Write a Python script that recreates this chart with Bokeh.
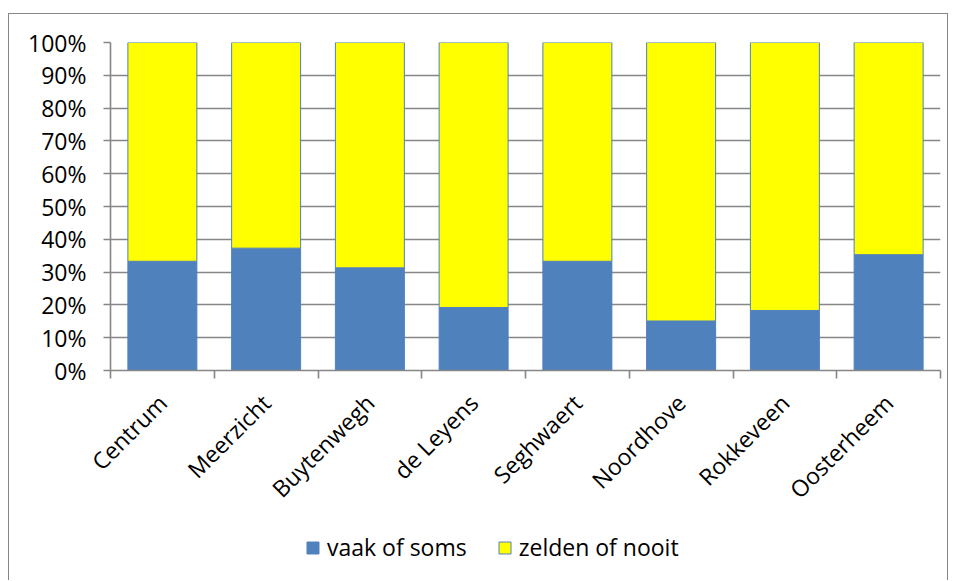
import math
from bokeh.plotting import figure
from bokeh.layouts import column
from bokeh.models import (Range1d, FixedTicker, LinearAxis, Legend, LegendItem,
                          ColumnDataSource)
from bokeh.embed import file_html
from bokeh.resources import INLINE

categories = ["Centrum", "Meerzicht", "Buytenwegh", "de Leyens",
              "Seghwaert", "Noordhove", "Rokkeveen", "Oosterheem"]
vaak_of_soms = [33.3, 37.3, 31.3, 19.2, 33.3, 15.1, 18.3, 35.3]
zelden_of_nooit = [66.7, 62.7, 68.7, 80.8, 66.7, 84.9, 81.7, 64.7]
y_ticks = [0, 10, 20, 30, 40, 50, 60, 70, 80, 90, 100]
y_tick_labels = ["0%", "10%", "20%", "30%", "40%", "50%", "60%", "70%",
                 "80%", "90%", "100%"]
series_names = ["vaak of soms", "zelden of nooit"]

BLUE = "#4F81BD"
YELLOW = "#FFFF00"
GRAY = "#868686"
FONT = "Open Sans"
FS = "23px"
LW = 1.6

n = len(categories)
src = ColumnDataSource(dict(
    x=[i + 0.5 for i in range(n)],
    vaak=vaak_of_soms,
    zelden=zelden_of_nooit,
))

p = figure(width=940, height=507, output_backend="svg", toolbar_location=None,
           x_range=Range1d(0, n), y_range=Range1d(0, 100),
           min_border_left=102, min_border_right=8, min_border_top=29,
           min_border_bottom=150, outline_line_color=None,
           border_fill_color=None, background_fill_color="white")

renderers = p.vbar_stack(["vaak", "zelden"], x="x", width=0.665, source=src,
                         fill_color=[BLUE, YELLOW], line_color=BLUE,
                         line_width=1)

# y axis
yax = p.yaxis[0]
yax.ticker = FixedTicker(ticks=y_ticks)
yax.major_label_overrides = {t: l for t, l in zip(y_ticks, y_tick_labels)}
yax.minor_tick_line_color = None
yax.major_tick_in = 0
yax.major_tick_out = 7
yax.major_tick_line_color = GRAY
yax.major_tick_line_width = LW
yax.axis_line_color = GRAY
yax.axis_line_width = LW
yax.major_label_standoff = 17
yax.major_label_text_font = FONT
yax.major_label_text_font_size = FS
yax.major_label_text_color = "black"

p.ygrid.ticker = FixedTicker(ticks=y_ticks)
p.ygrid.grid_line_color = GRAY
p.ygrid.grid_line_width = LW
p.xgrid.visible = False

# x axis: boundary ticks only
xax = p.xaxis[0]
xax.ticker = FixedTicker(ticks=list(range(n + 1)))
xax.major_label_overrides = {i: "" for i in range(n + 1)}
xax.major_label_text_font_size = "0px"
xax.major_label_standoff = 0
xax.minor_tick_line_color = None
xax.major_tick_in = 0
xax.major_tick_out = 8
xax.major_tick_line_color = GRAY
xax.major_tick_line_width = LW
xax.axis_line_color = GRAY
xax.axis_line_width = LW

# x axis: category labels at centres
lab = LinearAxis(ticker=FixedTicker(ticks=[i + 0.5 for i in range(n)]))
lab.major_label_overrides = {i + 0.5: c for i, c in enumerate(categories)}
lab.major_label_orientation = math.pi / 4
lab.major_tick_line_color = None
lab.minor_tick_line_color = None
lab.axis_line_color = None
lab.major_label_standoff = 14
lab.major_label_text_font = FONT
lab.major_label_text_font_size = FS
lab.major_label_text_color = "black"
p.add_layout(lab, "below")

# legend strip (its bars fall outside its own visible range)
lp = figure(width=940, height=60, output_backend="svg", toolbar_location=None,
            x_range=Range1d(100, 101), y_range=Range1d(200, 201),
            min_border=0, outline_line_color=None, border_fill_color=None,
            background_fill_color=None)
lp.axis.visible = False
lp.grid.visible = False
lr = lp.vbar_stack(["vaak", "zelden"], x="x", width=0.665, source=src,
                   fill_color=[BLUE, YELLOW], line_color=BLUE, line_width=1)
legend = Legend(items=[LegendItem(label=series_names[i], renderers=[lr[i]])
                       for i in range(2)],
                orientation="horizontal", location=(195, 17),
                border_line_color=None, background_fill_alpha=0,
                padding=0, margin=0, spacing=30, label_standoff=7,
                glyph_width=15, glyph_height=15,
                label_text_font=FONT, label_text_font_size=FS,
                label_text_color="black")
lp.add_layout(legend, "center")

layout = column(p, lp, spacing=0, margin=(13, 0, 0, 8),
                styles={"box-shadow": "inset 1px 1px 0 0 " + GRAY +
                        ", inset -1px 0 0 0 " + GRAY})
open("out.html", "w").write(file_html(layout, INLINE))
